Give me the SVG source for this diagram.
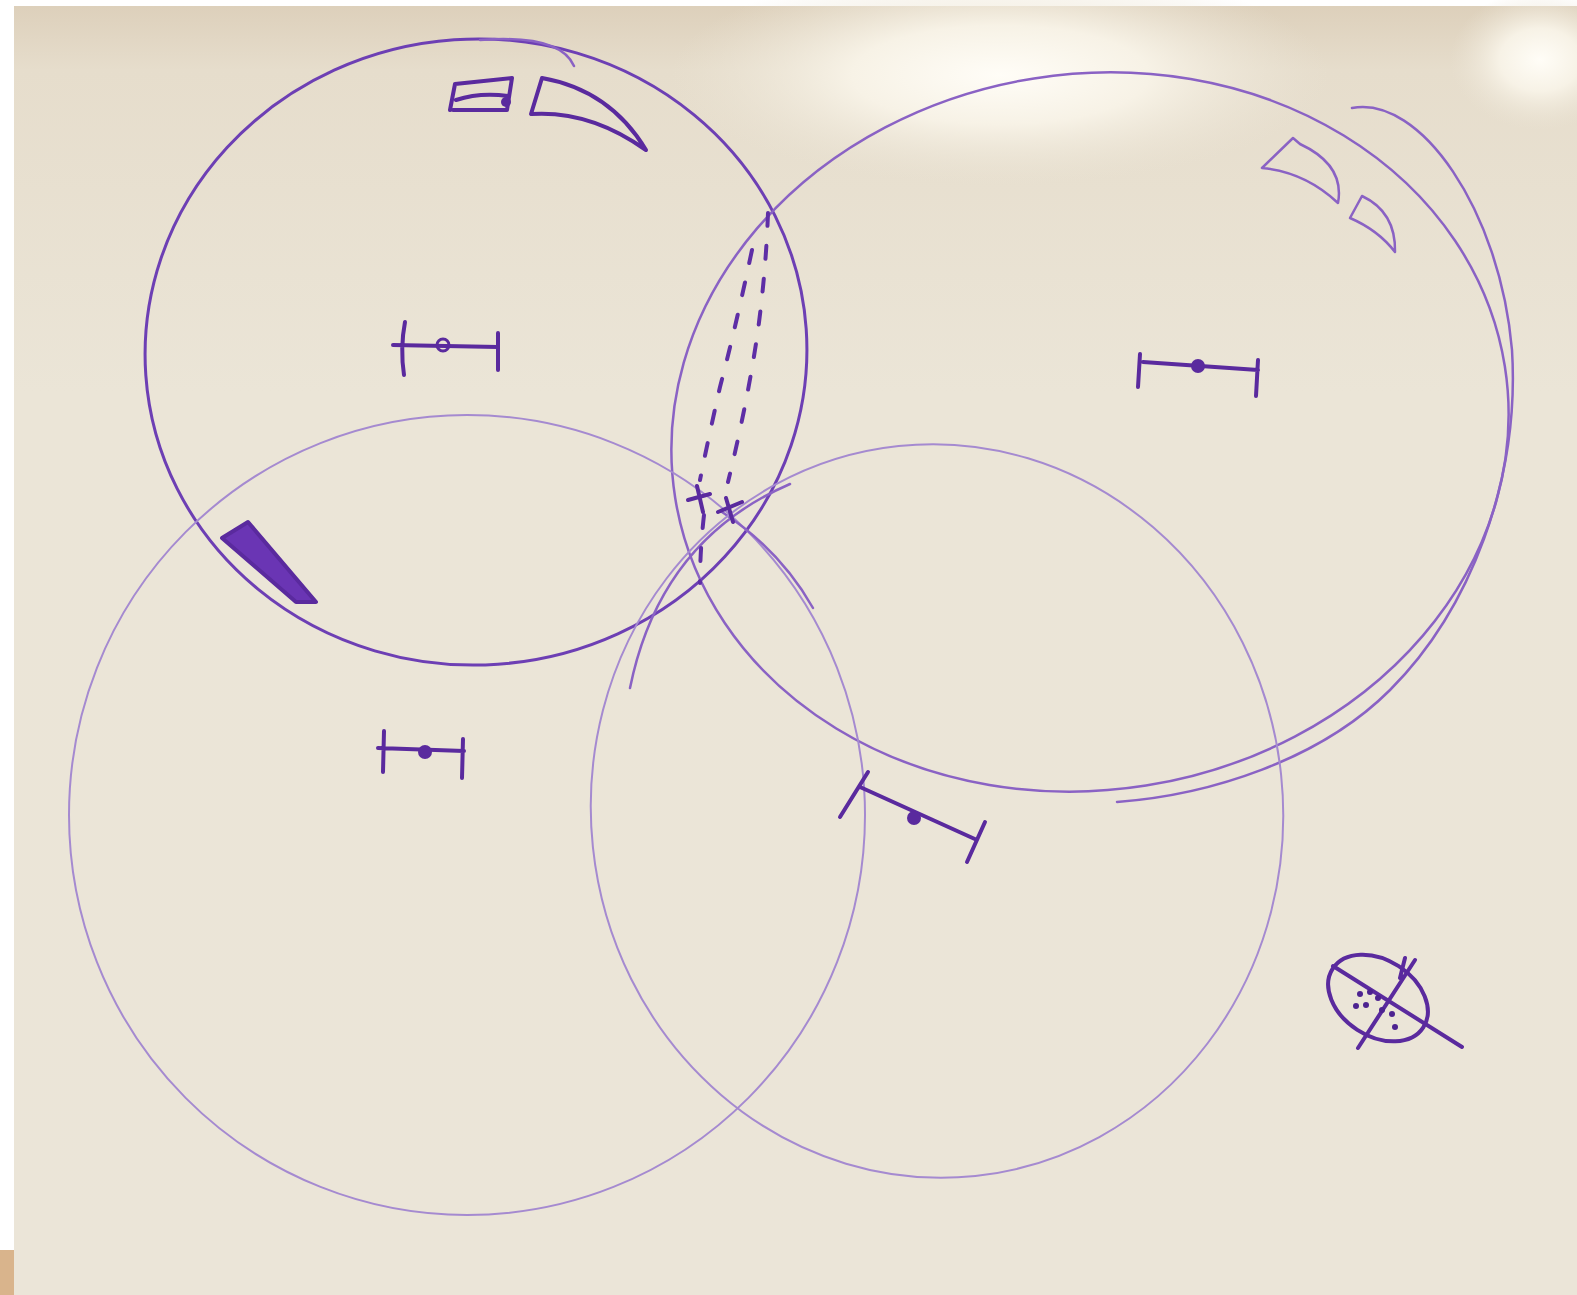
<svg xmlns="http://www.w3.org/2000/svg" width="1577" height="1295" viewBox="0 0 1577 1295">
<defs>
<radialGradient id="glare" cx="0.5" cy="0.5" r="0.5">
<stop offset="0" stop-color="#fffdf7"/>
<stop offset="0.45" stop-color="#f7f2e6"/>
<stop offset="1" stop-color="#ebe4d5" stop-opacity="0"/>
</radialGradient>
<linearGradient id="board" x1="0" y1="0" x2="0" y2="1">
<stop offset="0" stop-color="#ddd0bb"/>
<stop offset="0.05" stop-color="#e6ddcc"/>
<stop offset="0.3" stop-color="#ebe5d7"/>
<stop offset="1" stop-color="#ebe5d8"/>
</linearGradient>
<style>
.ink{fill:none;stroke:#6d3fb4;stroke-linecap:round;stroke-linejoin:round}
.thin{stroke:#a58ad0;stroke-width:2}
.mid{stroke:#8a62c4;stroke-width:2.5}
.bold{stroke:#5a2a9e;stroke-width:4}
.dash{stroke:#5e2ea6;stroke-width:4;stroke-dasharray:13 20}
</style>
</defs>
<rect width="1577" height="1295" fill="#ffffff"/>
<rect x="14" y="6" width="1563" height="1289" fill="url(#board)"/>
<ellipse cx="1000" cy="75" rx="330" ry="110" fill="url(#glare)"/>
<ellipse cx="1540" cy="60" rx="90" ry="70" fill="url(#glare)"/>
<rect x="0" y="1250" width="14" height="45" fill="#d9b48c"/>

<g id="circle-top-left">
<ellipse class="ink" cx="476" cy="352" rx="331" ry="313" transform="rotate(-4 476 352)" stroke-width="3"/>
<path class="ink mid" d="M480 40 Q560 34 574 66"/>
</g>
<g id="circle-top-right">
<ellipse class="ink mid" cx="1090" cy="432" rx="420" ry="358" transform="rotate(-9 1090 432)"/>
<path class="ink mid" d="M1352 108 C1420 95 1500 210 1512 350 C1520 480 1470 610 1390 690 C1320 760 1210 795 1117 802"/>
</g>
<g id="circle-bottom-left">
<ellipse class="ink thin" cx="467" cy="815" rx="398" ry="400"/>
<path class="ink mid" d="M722 512 Q780 550 813 608"/>
</g>
<g id="circle-bottom-right">
<ellipse class="ink thin" cx="937" cy="811" rx="346" ry="367" transform="rotate(-6 937 811)"/>
<path class="ink mid" d="M630 688 Q660 540 790 484"/>
</g>

<g id="lens-dashes">
<path class="ink dash" d="M752 250 Q735 330 720 387 Q708 440 700 480"/>
<path class="ink dash" d="M768 213 Q766 270 758 330 Q748 400 728 482"/>
<path class="ink dash" d="M704 515 Q700 550 700 583"/>
<path class="ink bold" d="M688 500 L710 494 M697 486 L703 512 M718 512 L742 502 M726 498 L733 522"/>
</g>

<g id="marks-top-left">
<path class="ink bold" stroke-width="3.5" d="M455 84 L512 78 M453 110 L507 110 M455 84 L450 110 M512 78 L507 110 M456 100 Q480 92 508 96"/>
<circle cx="506" cy="102" r="5" fill="#5a2a9e"/>
<path class="ink bold" stroke-width="3" d="M542 78 L531 114 Q590 110 646 150 Q610 90 542 78 Z"/>
</g>

<g id="marks-top-right">
<path class="ink mid" stroke-width="3" d="M1293 138 L1262 168 Q1305 172 1338 203 Q1345 165 1300 144 Z"/>
<path class="ink mid" stroke-width="3" d="M1362 196 L1350 218 Q1378 230 1395 252 Q1396 212 1362 196 Z"/>
</g>

<g id="wedge-left">
<path d="M222 538 L248 522 L316 602 L296 602 Z" fill="#6a35b4" stroke="#5a2a9e" stroke-width="4" stroke-linejoin="round"/>
</g>

<g id="errorbar-top-left">
<path class="ink bold" stroke-width="3.5" d="M393 345 L498 347 M405 322 Q400 348 404 375 M498 333 L498 370"/>
<circle cx="443" cy="345" r="6" fill="none" stroke="#5a2a9e" stroke-width="3"/>
</g>
<g id="errorbar-top-right">
<path class="ink bold" stroke-width="3.5" d="M1143 362 L1258 370 M1140 354 L1138 387 M1258 360 L1256 396"/>
<circle cx="1198" cy="366" r="7" fill="#5a2a9e"/>
</g>
<g id="errorbar-bottom-left">
<path class="ink bold" stroke-width="3.5" d="M378 748 L464 751 M384 731 L383 772 M463 739 L462 778"/>
<circle cx="425" cy="752" r="7" fill="#5a2a9e"/>
</g>
<g id="errorbar-bottom-right">
<path class="ink bold" stroke-width="3.5" d="M860 787 L977 840 M868 772 L840 817 M985 822 L967 862"/>
<circle cx="914" cy="818" r="7" fill="#5a2a9e"/>
</g>

<g id="crossed-circle">
<ellipse class="ink bold" stroke-width="3" cx="1378" cy="998" rx="54" ry="38" transform="rotate(33 1378 998)"/>
<path class="ink bold" stroke-width="3" d="M1333 966 L1462 1047 M1415 960 L1358 1048 M1405 958 L1400 978"/>
<g fill="#4d2390">
<circle cx="1360" cy="994" r="3"/><circle cx="1370" cy="992" r="3"/><circle cx="1356" cy="1006" r="3"/><circle cx="1366" cy="1005" r="3"/><circle cx="1382" cy="1010" r="3"/><circle cx="1392" cy="1014" r="3"/><circle cx="1395" cy="1027" r="3"/><circle cx="1378" cy="998" r="3"/>
</g>
</g>
</svg>
